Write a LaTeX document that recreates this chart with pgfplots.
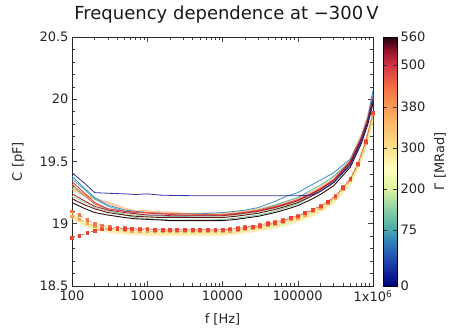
\documentclass[border=0pt]{standalone}
\usepackage{pgfplots}
\pgfplotsset{compat=1.18}
\usepackage{pgfplotstable}
\usepackage{fontspec}
\setmainfont{DejaVu Sans}

\pgfplotstableread{
f a b c d e o g h i j k y z
100 19.41 19.38 19.36 19.30 19.22 19.28 19.32 19.34 19.24 19.20 19.17 19.05 19.08
150 19.32 19.28 19.27 19.22 19.17 19.23 19.22 19.24 19.18 19.15 19.12 18.99 19.00
200 19.25 19.21 19.20 19.16 19.13 19.20 19.16 19.17 19.14 19.12 19.09 18.96 18.97
300 19.245 19.15 19.14 19.11 19.10 19.17 19.12 19.12 19.11 19.09 19.07 18.94 18.955
500 19.24 19.11 19.10 19.07 19.08 19.12 19.10 19.10 19.09 19.07 19.05 18.925 18.94
700 19.235 19.10 19.08 19.05 19.07 19.10 19.095 19.09 19.08 19.06 19.04 18.92 18.935
1000 19.24 19.09 19.07 19.04 19.06 19.10 19.09 19.085 19.07 19.055 19.035 18.915 18.93
1500 19.23 19.085 19.065 19.035 19.06 19.09 19.085 19.08 19.07 19.05 19.03 18.915 18.93
2000 19.228 19.08 19.06 19.03 19.06 19.09 19.08 19.075 19.065 19.05 19.025 18.915 18.93
3000 19.226 19.08 19.06 19.03 19.06 19.08 19.08 19.07 19.065 19.05 19.025 18.915 18.93
5000 19.225 19.08 19.065 19.03 19.06 19.08 19.075 19.07 19.065 19.05 19.025 18.915 18.93
7000 19.225 19.085 19.065 19.03 19.06 19.08 19.075 19.07 19.065 19.05 19.025 18.915 18.93
10000 19.225 19.09 19.07 19.035 19.06 19.08 19.075 19.07 19.065 19.05 19.025 18.915 18.93
15000 19.225 19.10 19.08 19.045 19.07 19.09 19.085 19.08 19.075 19.06 19.035 18.925 18.94
20000 19.225 19.11 19.09 19.055 19.08 19.10 19.095 19.09 19.085 19.07 19.045 18.935 18.95
30000 19.225 19.13 19.11 19.07 19.095 19.115 19.11 19.105 19.10 19.085 19.06 18.95 18.965
50000 19.225 19.18 19.15 19.10 19.125 19.145 19.14 19.135 19.13 19.115 19.09 18.975 18.99
70000 19.225 19.22 19.18 19.13 19.15 19.17 19.165 19.16 19.155 19.14 19.115 18.995 19.01
100000 19.225 19.25 19.21 19.16 19.18 19.20 19.195 19.19 19.185 19.17 19.145 19.025 19.04
150000 19.23 19.31 19.27 19.22 19.23 19.25 19.245 19.24 19.235 19.22 19.195 19.065 19.08
200000 19.26 19.35 19.31 19.26 19.27 19.29 19.285 19.28 19.275 19.26 19.235 19.105 19.12
300000 19.33 19.41 19.38 19.34 19.34 19.36 19.355 19.35 19.345 19.33 19.305 19.175 19.19
500000 19.47 19.52 19.50 19.49 19.49 19.51 19.505 19.50 19.495 19.48 19.455 19.325 19.34
700000 19.66 19.70 19.68 19.68 19.68 19.70 19.695 19.69 19.685 19.67 19.645 19.525 19.54
850000 19.82 19.85 19.83 19.83 19.83 19.85 19.845 19.84 19.835 19.82 19.795 19.685 19.70
1000000 20.00 20.07 20.04 20.02 20.00 20.02 20.015 20.01 20.005 19.99 19.965 19.855 19.87
}\data

\pgfplotstableread{
f l m n
100 18.89 19.10 19.06
125 18.905 19.07 19.035
160 18.925 19.03 19.005
200 18.945 19.00 18.98
250 18.955 18.985 18.97
315 18.96 18.975 18.96
400 18.96 18.97 18.955
500 18.96 18.965 18.95
630 18.96 18.96 18.945
800 18.955 18.96 18.945
1000 18.955 18.96 18.94
1250 18.95 18.955 18.94
1600 18.95 18.955 18.94
2000 18.95 18.955 18.94
2500 18.95 18.955 18.94
3150 18.95 18.955 18.94
4000 18.95 18.955 18.94
5000 18.95 18.955 18.94
6300 18.95 18.955 18.94
8000 18.95 18.955 18.94
10000 18.95 18.955 18.94
12500 18.955 18.96 18.945
16000 18.96 18.965 18.95
20000 18.97 18.975 18.96
25000 18.975 18.98 18.965
31500 18.985 18.99 18.975
40000 19.00 19.005 18.99
50000 19.01 19.015 19.00
63000 19.025 19.03 19.015
80000 19.045 19.05 19.035
100000 19.06 19.065 19.05
125000 19.085 19.09 19.075
160000 19.11 19.115 19.10
200000 19.14 19.145 19.13
250000 19.175 19.18 19.165
315000 19.22 19.225 19.21
400000 19.29 19.295 19.28
500000 19.36 19.365 19.35
630000 19.48 19.485 19.47
800000 19.66 19.665 19.65
1000000 19.89 19.895 19.88
}\dashdata

\definecolor{cA}{RGB}{50,50,170}
\definecolor{cB}{RGB}{60,140,200}
\definecolor{cC}{RGB}{80,175,180}
\definecolor{cD}{RGB}{110,200,160}
\definecolor{cE}{RGB}{170,220,150}
\definecolor{cO}{RGB}{253,174,97}
\definecolor{cG}{RGB}{244,109,67}
\definecolor{cH}{RGB}{215,60,70}
\definecolor{cI}{RGB}{170,25,50}
\definecolor{cJ}{RGB}{100,20,25}
\definecolor{cK}{RGB}{40,10,10}
\definecolor{cL}{RGB}{235,70,50}
\definecolor{cM}{RGB}{245,120,70}
\definecolor{cN}{RGB}{250,160,90}
\definecolor{cY}{RGB}{254,224,139}
\definecolor{cZ}{RGB}{217,239,139}

\pgfplotsset{colormap={gam}{rgb255(0cm)=(0,0,128) rgb255(25cm)=(30,70,170) rgb255(45cm)=(50,130,190) rgb255(56cm)=(70,170,170) rgb255(75cm)=(130,205,165) rgb255(97cm)=(225,243,160) rgb255(118cm)=(255,255,190) rgb255(138cm)=(254,224,139) rgb255(160cm)=(253,190,110) rgb255(179cm)=(250,155,85) rgb255(200cm)=(244,109,67) rgb255(221cm)=(213,50,70) rgb255(235cm)=(150,20,45) rgb255(249cm)=(30,5,10)}}

\begin{document}
\begin{tikzpicture}[x=1pt,y=1pt]
\begin{axis}[
  at={(72pt,45pt)}, anchor=south west,
  scale only axis, width=301pt, height=249pt,
  xmode=log, xmin=100, xmax=1000000, ymin=18.5, ymax=20.5,
  xtick={100,1000,10000,100000,1000000},
  xticklabels={100,1000,10000,100000,{1x10\textsuperscript{6}}},
  ytick={18.5,19,19.5,20,20.5},
  yticklabels={18.5,19,19.5,20,20.5},
  minor ytick={18.6,18.7,18.8,18.9,19.1,19.2,19.3,19.4,19.6,19.7,19.8,19.9,20.1,20.2,20.3,20.4},
  tick align=inside, tick pos=both,
  major tick length=5pt, minor tick length=3pt,
  every tick/.style={black!75, line width=0.5pt},
  axis line style={black!85, line width=0.8pt},
  tick label style={font=\fontsize{13}{15}\selectfont, text=black!85},
  xticklabel style={yshift=-1pt},
  label style={font=\fontsize{13}{15}\selectfont, text=black!85},
  xlabel={f [Hz]}, ylabel={C [pF]},
  xlabel style={yshift=-5pt},
  ylabel style={yshift=8pt},
  title={Frequency dependence at −300\,V},
  title style={font=\fontsize{18}{21}\selectfont, text=black!90, at={(0.5,1)}, anchor=south, yshift=4pt, xshift=4pt},
  colormap name=gam,
  colorbar, point meta min=0, point meta max=249,
  colorbar style={
    at={(1.0332,1)}, anchor=north west,
    scale only axis, width=14pt, height=249pt,
    ytick={0,56,97,138,179,221,249},
    yticklabels={0,75,200,300,380,500,560},
    minor ytick={},
    ytick pos=both, yticklabel pos=right,
    tick align=inside, major tick length=4pt,
    every tick/.style={black!80, line width=0.7pt},
    axis line style={black, line width=0.6pt},
    tick label style={font=\fontsize{13}{15}\selectfont, text=black!85},
    ylabel={Γ [MRad]},
    ylabel style={font=\fontsize{13}{15}\selectfont, text=black!85, yshift=-2pt},
  },
  clip=true,
]
% translucent bands
\addplot[cY, opacity=0.6, line width=3pt] table[x=f,y=y] {\data};
\addplot[cZ, opacity=0.6, line width=3pt] table[x=f,y=z] {\data};
\addplot[cO, opacity=0.6, line width=2.5pt] table[x=f,y=o] {\data};
% dashed with squares
\addplot[cN, densely dashed, line width=0.6pt, mark=square*, mark size=1.4pt, mark options={solid}] table[x=f,y=n] {\dashdata};
\addplot[cM, densely dashed, line width=0.6pt, mark=square*, mark size=1.4pt, mark options={solid}] table[x=f,y=m] {\dashdata};
\addplot[cL, densely dashed, line width=0.6pt, mark=square*, mark size=1.4pt, mark options={solid}] table[x=f,y=l] {\dashdata};
% solid
\addplot[cE, line width=0.8pt] table[x=f,y=e] {\data};
\addplot[cD, line width=0.8pt] table[x=f,y=d] {\data};
\addplot[cC, line width=0.8pt] table[x=f,y=c] {\data};
\addplot[cB, line width=0.8pt] table[x=f,y=b] {\data};
\addplot[cG, line width=0.8pt] table[x=f,y=g] {\data};
\addplot[cH, line width=0.8pt] table[x=f,y=h] {\data};
\addplot[cI, line width=0.8pt] table[x=f,y=i] {\data};
\addplot[cJ, line width=0.9pt] table[x=f,y=j] {\data};
\addplot[cK, line width=0.9pt] table[x=f,y=k] {\data};
\addplot[cA, line width=0.8pt] table[x=f,y=a] {\data};
\end{axis}
\pgfresetboundingbox
\path[use as bounding box] (0,0) rectangle (449,331);
\end{tikzpicture}
\end{document}
